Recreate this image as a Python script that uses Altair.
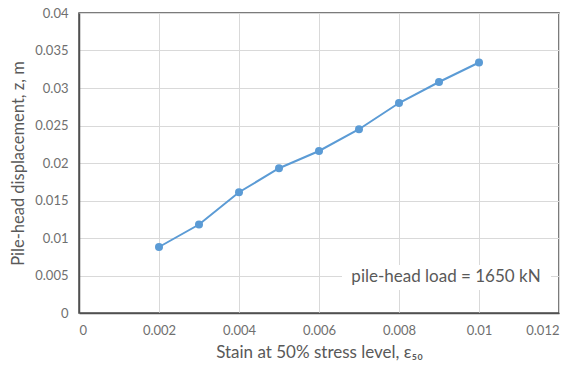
import altair as alt
import pandas as pd

strain = [0.002, 0.003, 0.004, 0.005, 0.006, 0.007, 0.008, 0.009, 0.010]
disp = [0.0088, 0.0118, 0.0161, 0.0193, 0.0216, 0.0245, 0.0280, 0.0308, 0.0334]
x_ticks = [0, 0.002, 0.004, 0.006, 0.008, 0.01, 0.012]
y_ticks = [0, 0.005, 0.01, 0.015, 0.02, 0.025, 0.03, 0.035, 0.04]
annotation = "pile-head load = 1650 kN"

df = pd.DataFrame({"strain": strain, "disp": disp})

FONT = "Lato"
GRAY = "#595959"
LGRAY = "#6f6f6f"
LABEL_EXPR = "datum.value == 0 ? '0' : format(datum.value, '.3~f')"

x = alt.X("strain:Q",
          scale=alt.Scale(domain=[0, 0.012], nice=False, zero=False),
          axis=alt.Axis(values=x_ticks, title="Stain at 50% stress level, ε₅₀",
                        labelExpr=LABEL_EXPR, tickSize=0, labelPadding=11, titlePadding=7,
                        gridColor="#d9d9d9", domainColor="#505050", domainWidth=1.5,
                        labelColor=LGRAY, titleColor=GRAY, labelFontSize=13,
                        titleFontSize=17, titleFontWeight="normal",
                        labelFont=FONT, titleFont=FONT, labelOverlap=False))
y = alt.Y("disp:Q",
          scale=alt.Scale(domain=[0, 0.04], nice=False),
          axis=alt.Axis(values=y_ticks, title="Pile-head displacement, z, m",
                        labelExpr=LABEL_EXPR, tickSize=0, labelPadding=11, titlePadding=8,
                        gridColor="#d9d9d9", domainColor="#505050", domainWidth=1.5,
                        labelColor=LGRAY, titleColor=GRAY, labelFontSize=13,
                        titleFontSize=16.5, titleFontWeight="normal",
                        labelFont=FONT, titleFont=FONT, labelOverlap=False))

base = alt.Chart(df).encode(x=x, y=y)
line = base.mark_line(color="#5B9BD5", strokeWidth=2)
pts = base.mark_circle(color="#5B9BD5", size=64, opacity=1)

ann = pd.DataFrame({"t": [annotation]})
box = alt.Chart(ann).mark_rect(color="white").encode(
    x=alt.value(263), x2=alt.value(472), y=alt.value(252), y2=alt.value(277))
txt = alt.Chart(ann).mark_text(
    font=FONT, fontSize=17, color=GRAY, align="center", baseline="middle").encode(
    x=alt.value(367), y=alt.value(264), text="t:N")

chart = (line + pts + box + txt).properties(
    width=480, height=300,
    autosize=alt.AutoSizeParams(type="none"),
    padding={"left": 79, "top": 13, "right": 28, "bottom": 55},
    background="white",
).configure_view(stroke="#505050", strokeWidth=1.5)

chart.save("out.html", embed_options={"renderer": "svg", "actions": False})
